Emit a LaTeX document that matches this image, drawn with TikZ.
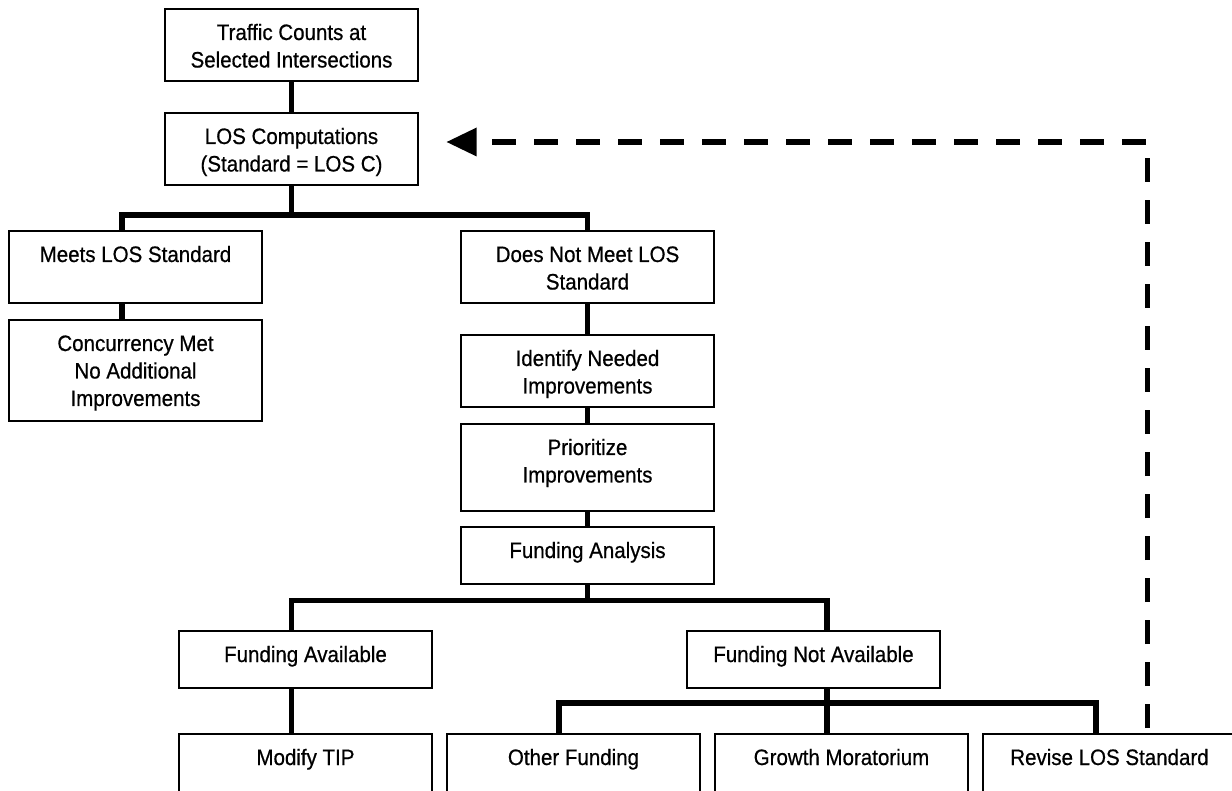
\documentclass[tikz,border=0pt]{standalone}
\usepackage{fontspec}
\setmainfont{Liberation Sans}[FakeStretch=0.92, FakeBold=0.6]
\usetikzlibrary{arrows.meta}
\newcommand{\bxtext}[2]{\begin{minipage}[t][#1][t]{253pt}\centering\fontsize{22.3pt}{27.5pt}\selectfont\rule{0pt}{31pt}#2\end{minipage}}
\begin{document}
\begin{tikzpicture}[x=1pt, y=-1pt,
  box/.style={draw, line width=1.8pt, inner sep=0pt, outer sep=0pt, anchor=north west},
  conn/.style={line width=5.5pt, line join=miter, line cap=butt},
  dashline/.style={line width=5.5pt, dash pattern=on 24pt off 18pt, dash phase=36pt, line cap=butt, line join=miter}]
\useasboundingbox (0,0) rectangle (1232,791);
\clip (0,0) rectangle (1232,791);
\fill[white] (0,0) rectangle (1232,791);
% boxes
\node[box] (tc) at (165,9) {\bxtext{72pt}{Traffic Counts at\\Selected Intersections}};
\node[box] (los) at (165,113) {\bxtext{72pt}{LOS Computations\\(Standard = LOS C)}};
\node[box] (meets) at (9,231) {\bxtext{72pt}{Meets LOS Standard}};
\node[box] (conc) at (9,320) {\bxtext{101pt}{Concurrency Met\\No Additional\\Improvements}};
\node[box] (dnm) at (461,231) {\bxtext{72pt}{Does Not Meet LOS\\Standard}};
\node[box] (ident) at (461,335) {\bxtext{72pt}{Identify Needed\\Improvements}};
\node[box] (prio) at (461,424) {\bxtext{87pt}{Prioritize\\Improvements}};
\node[box] (fa) at (461,527) {\bxtext{57pt}{Funding Analysis}};
\node[box] (favail) at (179,631) {\bxtext{57pt}{Funding Available}};
\node[box] (fna) at (687,631) {\bxtext{57pt}{Funding Not Available}};
\node[box] (mod) at (179,734) {\bxtext{100pt}{Modify TIP}};
\node[box] (other) at (447,734) {\bxtext{100pt}{Other Funding}};
\node[box] (growth) at (715,734) {\bxtext{100pt}{Growth Moratorium}};
\node[box] (revise) at (983,734) {\bxtext{100pt}{Revise LOS Standard}};
% bus coordinates
\coordinate (m1) at (122,215);
\coordinate (d1) at (587.5,215);
\coordinate (f1) at (291.5,600.5);
\coordinate (f2) at (827,600.5);
\coordinate (g1) at (559,703);
\coordinate (g2) at (1096,703);
\coordinate (dc) at (1147.5,142);
\coordinate (tipp) at (446.7,142);
% connectors
\draw[conn] (tc.south) -- (los.north);
\draw[conn] (los.south) -- (los.south |- m1);
\draw[conn] (meets.north -| m1) |- (d1) -- (dnm.north -| d1);
\draw[conn] (meets.south -| m1) -- (conc.north -| m1);
\draw[conn] (dnm.south) -- (ident.north);
\draw[conn] (ident.south) -- (prio.north);
\draw[conn] (prio.south) -- (fa.north);
\draw[conn] (fa.south) -- (fa.south |- f1);
\draw[conn] (favail.north -| f1) |- (f2) -- (fna.north -| f2);
\draw[conn] (favail.south -| f1) -- (mod.north -| f1);
\draw[conn] (fna.south -| f2) -- (growth.north -| f2);
\draw[conn] (other.north -| g1) |- (g2) -- (revise.north -| g2);
% dashed feedback
\draw[dashline, -{Triangle[length=30pt,width=29pt,line width=0pt]}] (revise.north -| dc) |- (tipp);
\end{tikzpicture}
\end{document}
